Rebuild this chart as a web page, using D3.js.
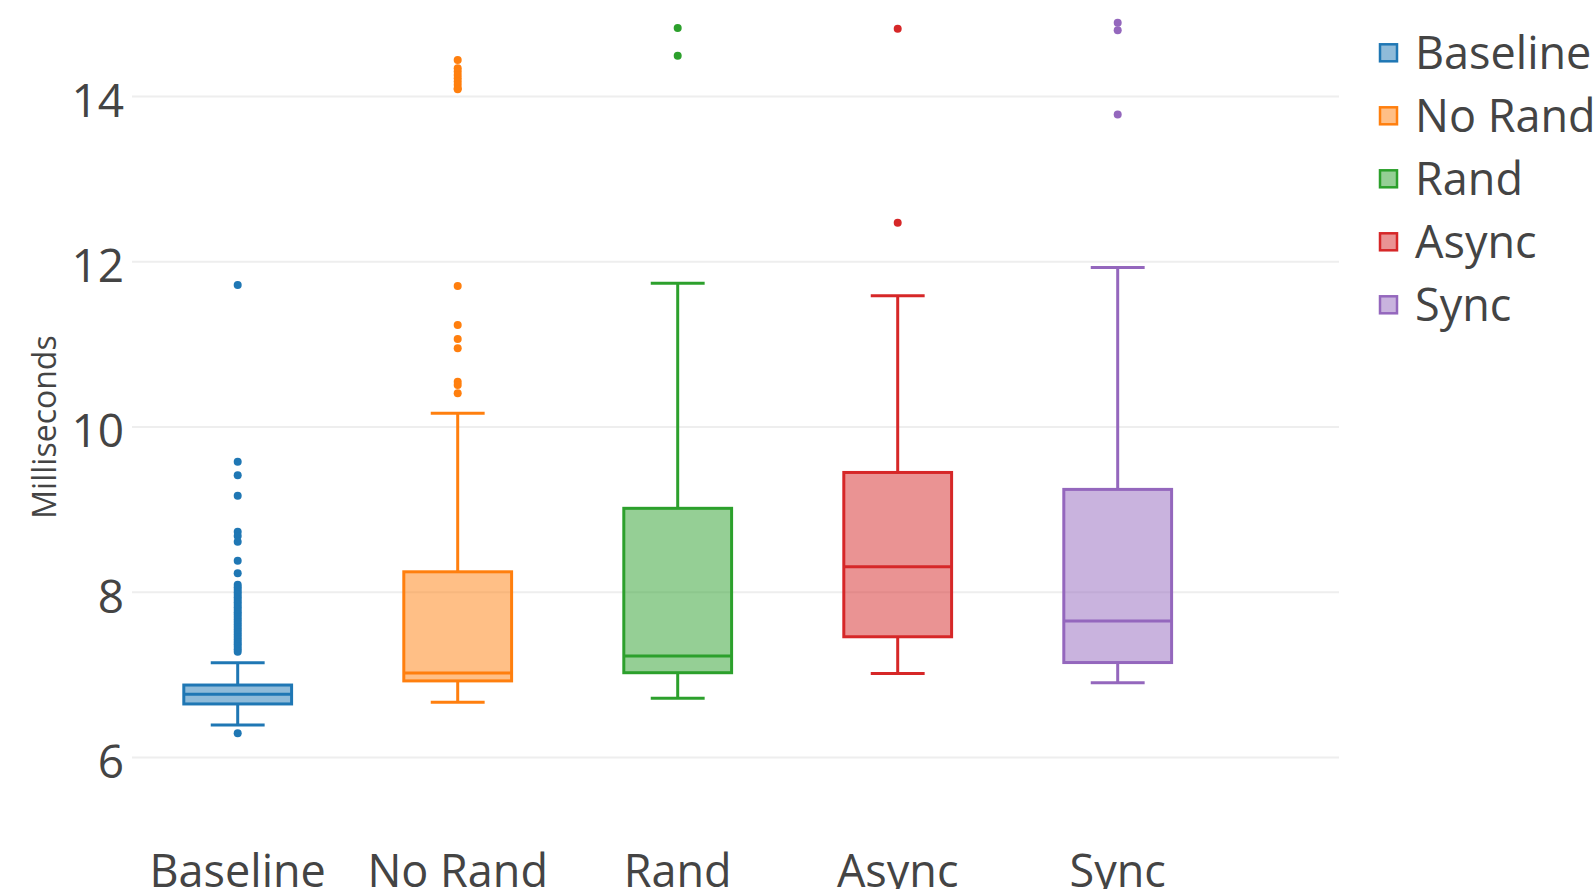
<!DOCTYPE html>
<html>
<head>
<meta charset="utf-8">
<script src="https://cdn.jsdelivr.net/npm/d3@7"></script>
<style>
  html, body { margin: 0; padding: 0; background: #fff; }
  svg { display: block; font-family: "Open Sans", "Noto Sans", sans-serif; }
</style>
</head>
<body>
<svg id="chart" width="1593" height="889"></svg>
<script>
// Response time per configuration (ms)
const categories = ["Baseline", "No Rand", "Rand", "Async", "Sync"];
const colors = ["#1f77b4", "#ff7f0e", "#2ca02c", "#d62728", "#9467bd"];

// Box statistics per category
const lowerWhisker = [6.394, 6.670, 6.717, 7.018, 6.906];
const q1           = [6.649, 6.928, 7.027, 7.462, 7.150];
const median       = [6.766, 7.025, 7.228, 8.308, 7.654];
const q3           = [6.878, 8.248, 9.016, 9.450, 9.245];
const upperWhisker = [7.148, 10.166, 11.739, 11.589, 11.930];

// Outliers per category
const outliersBaseline = [6.294, 11.718, 9.580, 9.416, 9.169, 8.733, 8.681, 8.612, 8.382, 8.230,
  8.09, 8.06, 8.03, 8.00, 7.97, 7.94, 7.91, 7.88, 7.85, 7.82, 7.79, 7.76, 7.73, 7.70,
  7.67, 7.64, 7.61, 7.58, 7.55, 7.52, 7.49, 7.46, 7.43, 7.40, 7.37, 7.34, 7.31, 7.28];
const outliersNoRand = [14.44, 14.34, 14.30, 14.26, 14.22, 14.18, 14.14, 14.10, 14.086,
  11.706, 11.234, 11.065, 10.952, 10.548, 10.508, 10.408];
const outliersRand = [14.828, 14.493];
const outliersAsync = [14.820, 12.472];
const outliersSync = [14.89, 14.80, 13.78];
const outliers = [outliersBaseline, outliersNoRand, outliersRand, outliersAsync, outliersSync];

const yTicks = [6, 8, 10, 12, 14];
const yTitle = "Milliseconds";

const svg = d3.select("#chart");

const x = d3.scaleBand().domain(categories).range([127.7, 1227.7]).paddingInner(0).paddingOuter(0);
const y = d3.scaleLinear().domain([6, 14]).range([757.6, 96.4]);
const gridLeft = 132, gridRight = 1339;

// Horizontal gridlines
svg.append("g").selectAll("line").data(yTicks).join("line")
  .attr("x1", gridLeft).attr("x2", gridRight)
  .attr("y1", d => y(d)).attr("y2", d => y(d))
  .attr("stroke", "#eee").attr("stroke-width", 2);

// Y axis tick labels
const yAxis = d3.axisLeft(y).tickValues(yTicks).tickSize(0).tickPadding(0).tickFormat(d3.format("d"));
svg.append("g").attr("transform", `translate(124,5)`).call(yAxis)
  .call(g => g.select(".domain").remove())
  .call(g => g.selectAll("text").attr("fill", "#444").attr("font-size", 46)
    .attr("font-family", "'Open Sans', sans-serif"));

// Y axis title
svg.append("text")
  .attr("transform", "translate(56,427) rotate(-90)")
  .attr("text-anchor", "middle")
  .attr("fill", "#444").attr("font-size", 32)
  .text(yTitle);

// X axis category labels
const xAxis = d3.axisBottom(x).tickSize(0).tickPadding(0);
svg.append("g").attr("transform", "translate(0,853)").call(xAxis)
  .call(g => g.select(".domain").remove())
  .call(g => g.selectAll("text").attr("fill", "#444").attr("font-size", 45)
    .attr("font-family", "'Open Sans', sans-serif").attr("dy", "0.75em"));

// Boxes
const boxW = x.bandwidth() * 0.49;
const capW = boxW / 2;
categories.forEach((cat, i) => {
  const cx = x(cat) + x.bandwidth() / 2;
  const c = colors[i];
  const g = svg.append("g");
  // whiskers
  g.append("line").attr("x1", cx).attr("x2", cx)
    .attr("y1", y(q3[i])).attr("y2", y(upperWhisker[i])).attr("stroke", c).attr("stroke-width", 3);
  g.append("line").attr("x1", cx).attr("x2", cx)
    .attr("y1", y(q1[i])).attr("y2", y(lowerWhisker[i])).attr("stroke", c).attr("stroke-width", 3);
  g.append("line").attr("x1", cx - capW / 2).attr("x2", cx + capW / 2)
    .attr("y1", y(upperWhisker[i])).attr("y2", y(upperWhisker[i])).attr("stroke", c).attr("stroke-width", 3);
  g.append("line").attr("x1", cx - capW / 2).attr("x2", cx + capW / 2)
    .attr("y1", y(lowerWhisker[i])).attr("y2", y(lowerWhisker[i])).attr("stroke", c).attr("stroke-width", 3);
  // box
  g.append("rect").attr("x", cx - boxW / 2).attr("width", boxW)
    .attr("y", y(q3[i])).attr("height", y(q1[i]) - y(q3[i]))
    .attr("fill", c).attr("fill-opacity", 0.5)
    .attr("stroke", c).attr("stroke-width", 3);
  // median
  g.append("line").attr("x1", cx - boxW / 2).attr("x2", cx + boxW / 2)
    .attr("y1", y(median[i])).attr("y2", y(median[i])).attr("stroke", c).attr("stroke-width", 3);
  // outliers
  g.selectAll("circle").data(outliers[i]).join("circle")
    .attr("cx", cx).attr("cy", d => y(d)).attr("r", 4)
    .attr("fill", c);
});

// Legend
const legend = svg.append("g").attr("transform", "translate(1380,0)");
const legendRowY = d3.scalePoint().domain(categories).range([52.8, 304.8]);
categories.forEach((cat, i) => {
  const ly = legendRowY(cat);
  legend.append("rect").attr("x", 0).attr("y", ly - 8.5).attr("width", 17).attr("height", 17)
    .attr("fill", colors[i]).attr("fill-opacity", 0.5)
    .attr("stroke", colors[i]).attr("stroke-width", 2.5);
  legend.append("text").attr("x", 35).attr("y", ly).attr("dy", "0.36em")
    .attr("fill", "#444").attr("font-size", 45).text(cat);
});
</script>
</body>
</html>
